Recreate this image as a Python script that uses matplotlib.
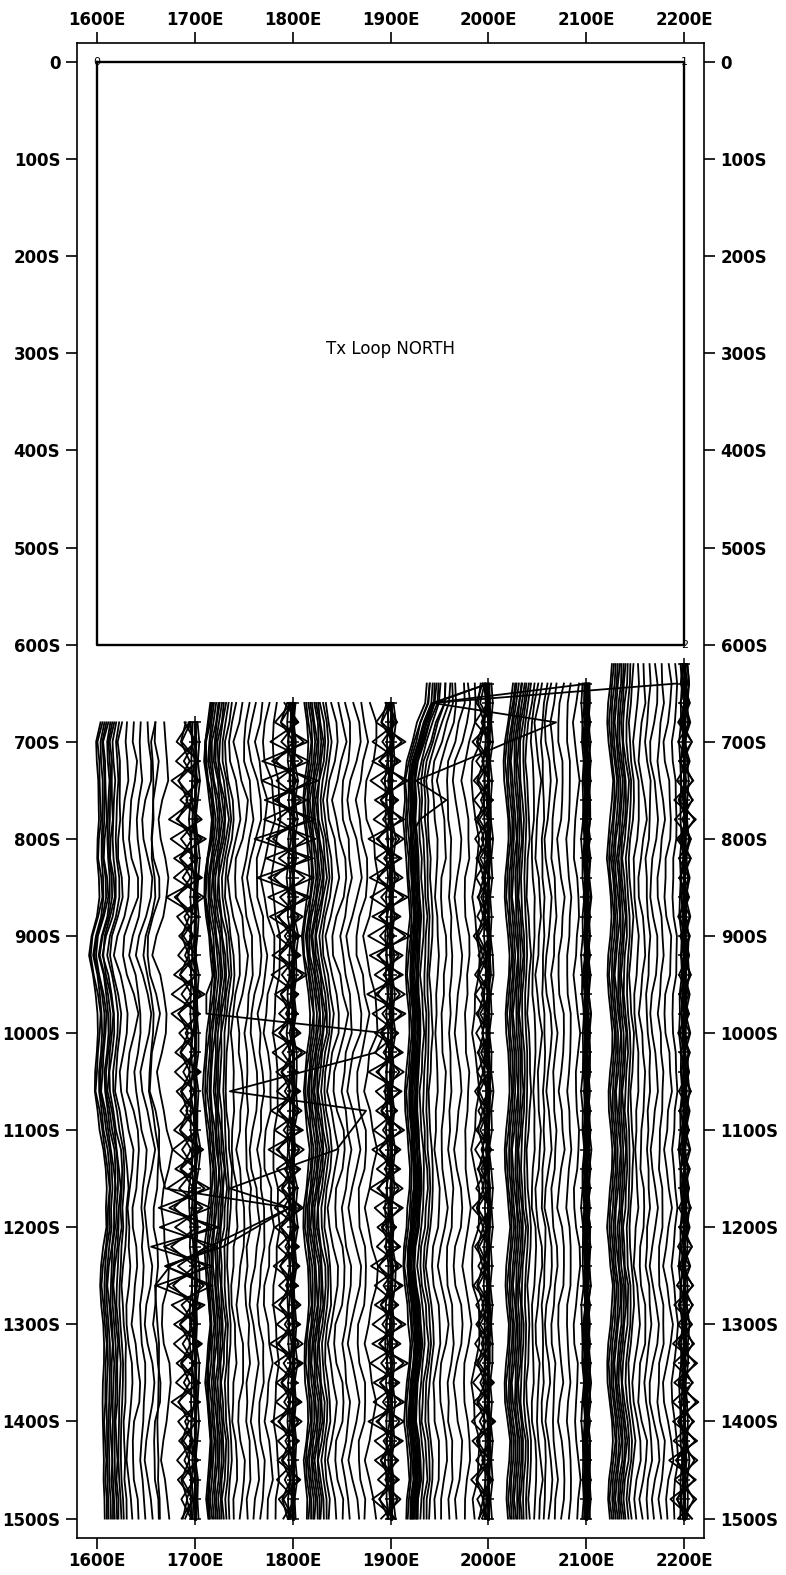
import matplotlib
matplotlib.use("Agg")
import matplotlib.pyplot as plt
import numpy as np

# survey lines (E) and the first station (S) read on each line
lines = [1700, 1800, 1900, 2000, 2100, 2200]
first_stn = {1700: 680, 1800: 660, 1900: 660, 2000: 640, 2100: 640, 2200: 620}
last_stn = 1500

# wiggles, one value (m) per station, first station -> 1500S
# wa: slow drift of the left band, wb: wiggle of the inner channels,
# wc: short station-to-station jitter, z1: zigzag of the noisy channels
wa = {
    1700: [0, -5, -4, -3, -2, -1, -3, -4, -2, -1,
           -4, -9, -11, -8, -5, -3, -3, -4, -5, -6,
           -3, -1, 2, 5, 7, 6, 6, 3, 0, -1,
           1, 3, 4, 3, 2, 2, 2, 3, 4, 3,
           4, 4],
    1800: [3, 1, -2, -3, -1, 2, 4, 3, 0, -2,
           -3, -1, 1, 3, 5, 4, 2, 0, -2, -4,
           -5, -3, 0, 2, 4, 3, 1, -1, -3, -2,
           0, 2, 3, 1, -1, -2, 0, 2, 3, 2,
           0, -1, 1],
    1900: [-2, 0, 2, 1, -1, -3, -2, 0, 2, 3,
           1, -2, -4, -3, 0, 2, 4, 3, 1, -1,
           -2, -1, 1, 3, 2, 0, -2, -3, -1, 1,
           2, 3, 1, -1, -2, -1, 1, 2, 0, -2,
           -1, 1, 0],
    2000: [20, 18, 10, 5, 0, -3, -2, -4, -3, -1,
           0, 2, 3, 1, -1, -2, 0, 2, 3, 1,
           -1, -3, -2, 0, 2, 3, 2, 0, -1, -3,
           -4, -2, 0, 1, 3, 2, 0, -2, -3, -1,
           1, 2, 0, -1],
    2100: [6, 4, 1, -2, -4, -3, -1, 1, 2, 0,
           -2, -3, -1, 1, 3, 2, 0, -2, -1, 1,
           2, 3, 1, -1, -3, -2, 0, 2, 3, 1,
           -1, -2, 0, 2, 1, -1, -3, -2, 1, 3,
           2, 0, -1, 1],
    2200: [2, 0, -2, -3, -1, 1, 3, 2, 0, -2,
           -3, -1, 1, 2, 0, -2, -3, -1, 1, 3,
           2, 0, -2, -1, 1, 3, 2, 0, -2, -3,
           -1, 1, 3, 2, 0, -2, -3, -2, 0, 2,
           3, 1, -1, -2, 0],
}
wb = {
    1700: [0, 2, 4, 3, -1, -3, -2, 1, 4, 3,
           0, -3, -4, -1, 2, 4, 2, -1, -3, -2,
           1, 3, 4, 1, -2, -4, -3, 0, 3, 2,
           -1, -3, -1, 2, 4, 3, 0, -2, -3, -1,
           1, 2],
    1800: [0, -2, -4, -1, 2, 4, 3, 0, -3, -4,
           -2, 1, 3, 4, 2, -1, -3, -2, 0, 3,
           4, 2, -1, -4, -3, 0, 2, 4, 3, 1,
           -2, -4, -2, 1, 3, 2, -1, -3, -1, 2,
           3, 1, -1],
    1900: [0, 3, 4, 1, -2, -4, -2, 1, 3, 4,
           2, -1, -4, -3, 0, 2, 4, 3, -1, -3,
           -4, -1, 2, 3, 1, -2, -3, -1, 2, 4,
           3, 0, -3, -4, -1, 2, 3, 1, -2, -3,
           -1, 2, 3],
    2000: [0, 2, 3, 1, -2, -3, -1, 2, 3, 2,
           -1, -3, -2, 1, 3, 2, 0, -2, -3, -1,
           2, 3, 1, -1, -3, -2, 1, 3, 2, -1,
           -2, -1, 2, 3, 1, -2, -3, -1, 1, 3,
           2, 0, -2, -1],
    2100: [0, -2, -3, -1, 2, 3, 1, -1, -3, -2,
           1, 3, 2, 0, -2, -3, -1, 2, 3, 1,
           -1, -2, 0, 2, 3, 1, -2, -3, -1, 2,
           3, 2, -1, -3, -2, 1, 2, 0, -2, -1,
           1, 3, 2, 0],
    2200: [0, 2, 3, 1, -2, -3, -1, 1, 3, 2,
           0, -2, -3, -1, 2, 3, 2, -1, -3, -2,
           0, 2, 3, 1, -1, -3, -2, 1, 3, 2,
           -1, -3, -2, 1, 3, 3, 0, -2, -3, -1,
           2, 3, 1, -1, 0],
}
wc = {
    1700: [0, 3, -2, 4, 1, -3, 2, 5, -1, -4,
           3, 2, -3, 4, -2, -5, 1, 3, -2, 4,
           -1, -3, 5, 2, -4, -1, 3, -3, 2, 4,
           -2, 1, -3, 3, 0, -2, 4, 1, -3, 2,
           -1, 1],
    1800: [0, -3, 4, -2, 5, -4, 3, -1, 4, -3,
           2, -4, 5, -2, 1, -3, 4, -5, 3, 1,
           -2, 4, -3, 2, -4, 5, -1, 3, -4, 2,
           -3, 1, 4, -2, 3, -4, 2, -1, 3, -2,
           2, -3, 1],
    1900: [0, 4, -3, 2, -4, 3, -2, 5, -3, 1,
           -4, 3, -1, 4, -3, 2, -5, 3, -2, 4,
           -1, 3, -4, 2, -2, 4, -3, 1, -4, 3,
           2, -3, 4, -1, 3, -4, 2, -2, 4, -3,
           1, -2, 3],
    2000: [0, 2, -3, 3, -2, 4, -1, -3, 2, -2,
           3, -1, 2, -3, 1, 4, -2, 2, -3, 1,
           -2, 3, -1, 2, -4, 1, 3, -2, 2, -1,
           3, -2, 1, -3, 2, 4, -1, 2, -3, 1,
           -2, 3, -1, 2],
    2100: [0, -2, 3, -1, 2, -3, 1, 3, -2, 2,
           -1, 3, -2, 1, -3, 2, -1, 3, -2, 1,
           2, -3, 1, -2, 3, -1, 2, -2, 3, -1,
           -2, 2, -3, 1, 2, -2, 3, -1, -2, 2,
           1, -2, 2, -1],
    2200: [0, 3, -2, 1, -3, 2, 4, -1, -3, 2,
           -2, 3, 1, -3, 2, -1, 3, -2, 1, -3,
           2, -1, 3, -2, 1, -3, 2, -1, 3, -2,
           1, -3, 2, -2, 3, -1, 2, -3, 1, 2,
           -2, 3, -1, 2, -1],
}
z1 = {
    1700: [2, -8, 10, -12, 6, -14, 15, -10, 12, -16,
           9, -6, 8, -10, 14, -12, 7, -9, 11, -8,
           6, -10, 13, -9, 18, -22, 25, -28, 20, -24,
           14, -10, 12, -8, 10, -12, 8, -6, 9, -7,
           5, -4],
    1800: [3, -10, 16, -20, 24, -18, 22, -26, 20, -24,
           18, -14, 10, -12, 15, -10, 8, -12, 14, -9,
           10, -13, 12, -15, 10, -8, 12, -10, 9, -11,
           8, -12, 10, -14, 12, -9, 11, -13, 9, -8,
           10, -7, 4],
    1900: [2, -9, 14, -12, 16, -10, 13, -15, 11, -14,
           16, -12, 18, -14, 12, -16, 14, -10, 12, -15,
           11, -9, 13, -12, 10, -14, 12, -8, 10, -13,
           12, -10, 14, -12, 16, -11, 13, -15, 12, -10,
           9, -12, 6],
    2000: [0, -5, 7, -8, 6, -7, 8, -6, 7, -5,
           6, -4, 5, -7, 4, -6, 7, -5, 6, -4,
           5, -6, 4, -5, 7, -4, 6, -8, 5, -6,
           4, -7, 6, -5, 7, -6, 9, -7, 10, -8,
           6, -9, 5, -3],
    2100: [0, -1, 2, -2, 1, -2, 2, -1, 2, -2,
           1, -2, 2, -1, 2, -2, 1, -2, 2, -1,
           2, -1, 2, -2, 1, -2, 2, -1, 2, -2,
           1, -2, 2, -1, 2, -2, 1, -2, 2, -1,
           2, -2, 1, -1],
    2200: [0, -3, 4, -5, 6, -4, 7, -8, 9, -6,
           5, -4, 3, -5, 4, -3, 5, -4, 3, -5,
           4, -3, 5, -4, 3, -5, 4, -3, 5, -4,
           6, -5, 7, -8, 6, -9, 10, -8, 11, -9,
           10, -12, 9, -11, 6],
}

# mean position of each channel relative to its line (m)
band_off = {
    1700: [-96, -94, -92, -90, -88, -86, -84, -82, -80, -77, -74],
    1800: [-87, -85, -83, -81, -79, -77, -75, -73, -71, -68, -65],
    1900: [-86, -84, -82, -80, -78, -76, -74, -72, -70, -67, -64],
    2000: [-83, -81, -79, -77, -75, -73, -71, -68, -65, -62, -59],
    2100: [-81, -79, -77, -75, -73, -71, -69, -67, -65, -62, -59],
    2200: [-76, -74, -72, -70, -68, -66, -64, -62, -60, -57, -54],
}
mid_off = {
    1700: [-69, -62, -55, -48, -40, -31],
    1800: [-60, -53, -46, -39, -32, -25, -17],
    1900: [-59, -52, -45, -37, -29, -20],
    2000: [-53, -46, -39, -31, -22, -13],
    2100: [-54, -49, -44, -39, -33, -26, -18, -10],
    2200: [-49, -43, -37, -31, -24, -17, -10],
}
near_off = [-4, -2, 0, 1, 3]

# how strongly each channel follows wa / wb / wc
band_ga = [1.0, 1.05, 0.95, 1.0, 1.1, 0.9, 1.0, 0.95, 1.05, 0.9, 1.0]
band_gb = [0.1, 0.2, 0.15, 0.3, 0.2, 0.35, 0.4, 0.3, 0.45, 0.5, 0.4]
band_gc = [0.1, -0.1, 0.15, 0.05, -0.1, 0.2, 0.1, -0.15, 0.2, 0.1, -0.1]
mid_ga = [0.8, 0.6, 0.7, 0.5, 0.4, 0.5, 0.3, 0.4, 0.3]
mid_gb = [1.0, 1.3, 0.8, 1.5, 1.1, 1.4, 0.9, 1.2, 1.0]
mid_gc = [0.2, -0.25, 0.3, 0.15, -0.3, 0.35, 0.25, -0.2, 0.3]
near_gc = [0.3, -0.4, 0.5, -0.2, 0.4]
zz_centre = {1700: -8, 1800: -5, 1900: -3, 2000: -6, 2100: 0, 2200: 0}
zz_gain = [1.3, 0.9, 0.5, -1.1, -0.6]
zz_shift = [0, 2, -2, 0, 3]

# channels with spikes: (line, mean position, {station: value})
spikes = [
    (1800, -86, {960: -88, 980: -88, 1000: 94, 1020: 85, 1040: 10, 1060: -64,
                 1080: 75, 1100: 60, 1120: 45, 1140: -10, 1160: -64, 1180: -3,
                 1200: -37, 1220: -71, 1240: -130, 1260: -86}),
    (1700, -40, {1160: -30, 1180: 97, 1200: 56, 1220: 15, 1240: -25}),
    (2000, -78, {640: 103, 660: -57, 680: 69, 700: 21, 720: -26, 740: -74,
                 760: -43, 780: -70}),
    (2000, -76, {640: 192, 660: -57}),
    (2000, -74, {640: 0, 660: -57}),
    (2000, -72, {640: 0, 660: -55}),
]

# transmitter loop
loop_e = [1600, 2200, 2200, 1600, 1600]
loop_n = [0, 0, -600, -600, 0]
loop_tags = ["0", "1", "2"]

LW = 1.3
fig = plt.figure(figsize=(7.86, 15.75), dpi=100)
ax = fig.add_axes([0.098, 0.0235, 0.7977, 0.9494])

for L in lines:
    stn = np.arange(first_stn[L], last_stn + 1, 20)
    n = min(len(stn), len(wa[L]), len(wb[L]), len(wc[L]), len(z1[L]))
    stn = stn[:n]
    a = np.array(wa[L][:n], float)
    b = np.array(wb[L][:n], float)
    c3 = np.array(wc[L][:n], float)
    z = np.array(z1[L][:n], float)
    y = -stn
    for i, c in enumerate(band_off[L]):
        ax.plot(L + c + band_ga[i] * a + band_gb[i] * b + band_gc[i] * c3, y,
                color="k", lw=LW)
    for i, c in enumerate(mid_off[L]):
        ax.plot(L + c + mid_ga[i] * a + mid_gb[i] * b + mid_gc[i] * c3, y,
                color="k", lw=LW)
    for i, c in enumerate(near_off):
        ax.plot(L + c + 0.3 * b + near_gc[i] * c3, y, color="k", lw=LW)
    for g, s in zip(zz_gain, zz_shift):
        ax.plot(L + zz_centre[L] + s + g * z, y, color="k", lw=LW)
    # station ticks along the line
    ax.plot(np.full(n, L), y, color="k", lw=2.0, marker="+", ms=8, mew=1.1)

for L, c, vals in spikes:
    stn = np.arange(first_stn[L], last_stn + 1, 20)
    n = min(len(stn), len(wa[L]))
    stn = stn[:n]
    x = L + c + np.array(wa[L][:n], float) + 0.3 * np.array(wb[L][:n], float)
    for s, v in vals.items():
        x[list(stn).index(s)] = L + v
    ax.plot(x, -stn, color="k", lw=LW)

ax.plot(loop_e, loop_n, color="k", lw=1.7)
for e, nn, t in zip(loop_e[:3], loop_n[:3], loop_tags):
    ax.text(e, nn, t, fontsize=8, ha="center", va="center", color="k")
ax.text(1900, -295, "Tx Loop NORTH", fontsize=12, ha="center", va="center")

ax.set_xlim(1580, 2220)
ax.set_ylim(-1520, 20)
xt = np.arange(1600, 2201, 100)
yt = np.arange(0, 1501, 100)
ax.set_xticks(xt)
ax.set_xticklabels([f"{v}E" for v in xt])
ax.set_yticks(-yt)
ax.set_yticklabels(["0"] + [f"{v}S" for v in yt[1:]])
ax.tick_params(direction="out", length=8, width=1.2, top=True, right=True,
               labeltop=True, labelright=True, labelsize=12)
ax.tick_params(axis="x", pad=2)
ax.tick_params(axis="y", pad=4)
for lab in ax.get_xticklabels() + ax.get_yticklabels():
    lab.set_fontweight("bold")
for sp in ax.spines.values():
    sp.set_linewidth(1.2)

fig.savefig("out.png", dpi=100)
